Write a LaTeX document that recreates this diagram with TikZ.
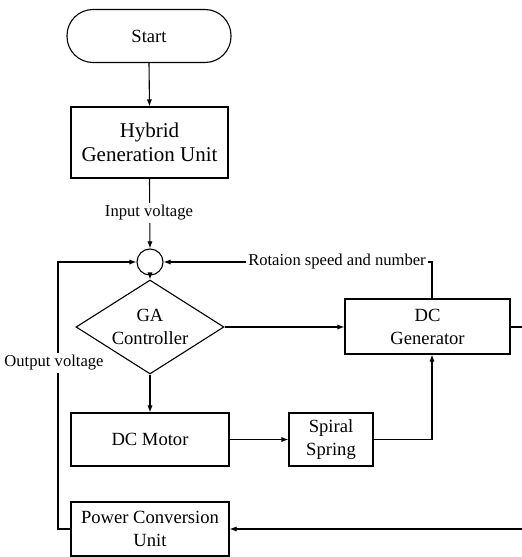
\documentclass[tikz,border=0pt]{standalone}
\usepackage{fontspec}
\setmainfont{Liberation Serif}
\usetikzlibrary{shapes.geometric,arrows.meta}
\begin{document}
\begin{tikzpicture}[x=0.5pt,y=-0.5pt,
  line width=0.55pt,
  arr/.style={-{Latex[length=3.5pt,width=2.6pt]}},
  boxtxt/.style={font=\fontsize{9.3}{11.5}\selectfont,align=center},
  blk/.style={draw,rectangle,boxtxt,inner sep=0pt},
  lbl/.style={fill=white,inner sep=1pt,font=\fontsize{8.3}{10}\selectfont}]
\useasboundingbox (0,0) rectangle (522,557);
% nodes
\node[draw,rounded corners=13pt,boxtxt,minimum width=82pt,minimum height=26.5pt,inner sep=0pt] (start) at (149,36) {Start};
\node[blk,font=\fontsize{10.5}{12}\selectfont,minimum width=78.5pt,minimum height=35.5pt] (hyb) at (149.5,142.5) {Hybrid\\Generation Unit};
\node[draw,circle,minimum size=13pt,inner sep=0pt] (sum) at (150,262) {};
\node[draw,diamond,aspect=1.574,minimum width=74pt,minimum height=47pt,inner sep=0pt,boxtxt] (ga) at (150,327) {GA\\Controller};
\node[blk,minimum width=82.5pt,minimum height=27.5pt] (gen) at (427.5,326.5) {DC\\Generator};
\node[blk,minimum width=79pt,minimum height=26.5pt] (mot) at (150,439.5) {DC Motor};
\node[blk,minimum width=42pt,minimum height=26.5pt] (spr) at (331,439.5) {Spiral\\Spring};
\node[blk,minimum width=79pt,minimum height=27pt] (pcu) at (150,529) {Power Conversion\\Unit};
% helper coordinates
\coordinate (fbR) at (432,262);
\coordinate (fbL) at (58,262);
\coordinate (outR) at (522,327);
\coordinate (inR) at (522,529);
% connectors
\draw[arr] (start.south) -- (hyb.north);
\draw[arr] (hyb.south) -- (sum.north);
\draw[arr] (sum.south) -- (ga.north);
\draw[arr] (ga.east) -- (gen.west |- ga.east);
\draw[arr] (ga.south) -- (mot.north);
\draw[arr] (mot.east) -- (spr.west);
\draw[arr] (spr.east) -| (gen.south -| fbR);
\draw[arr] (gen.north -| fbR) |- (sum.east);
\draw (gen.east |- outR) -- (outR);
\draw[arr] (inR) -- (pcu.east);
\draw[arr] (pcu.west) -| (fbL) -- (sum.west);
% labels
\node[lbl] (lin) at (149,213) {Input voltage};
\node[lbl] (lrot) at (337,262) {Rotaion speed and number};
\node[lbl] (lout) at (54,363) {Output voltage};
\end{tikzpicture}
\end{document}
